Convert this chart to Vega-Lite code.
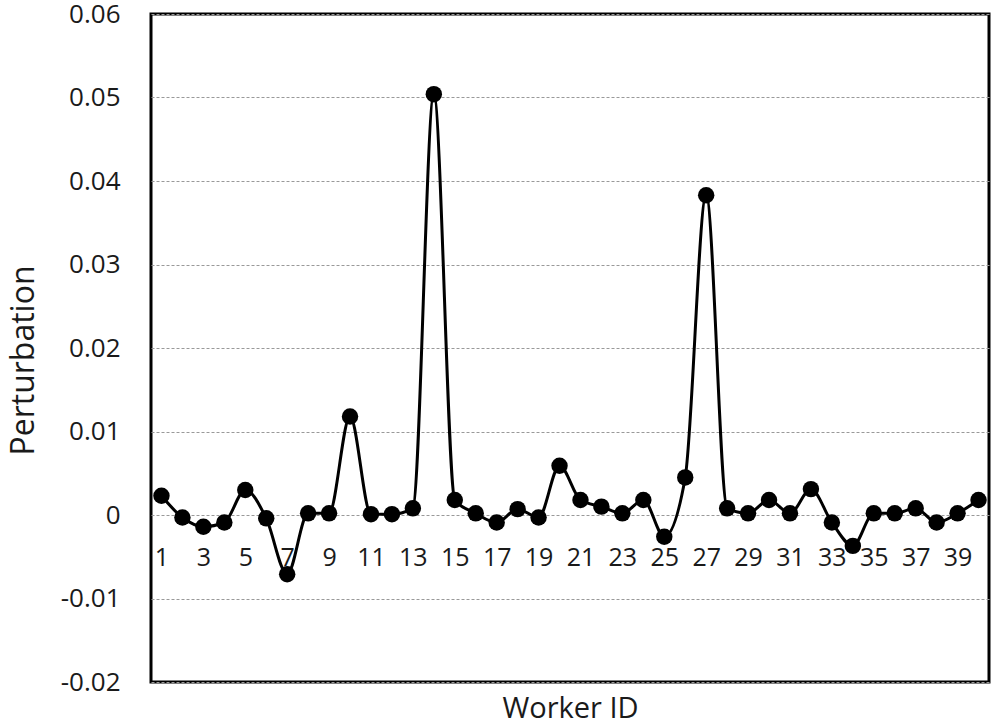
{
  "$schema": "https://vega.github.io/schema/vega-lite/v6.json",
  "autosize": {"type": "none"},
  "width": 838,
  "height": 668,
  "padding": {"left": 151, "top": 14, "right": 7, "bottom": 44},
  "background": "white",
  "config": {
    "view": {"stroke": "black", "strokeWidth": 3},
    "font": "Open Sans"
  },
  "data": {
    "values": [
      {"worker": 1, "perturbation": 0.0023},
      {"worker": 2, "perturbation": -0.0003},
      {"worker": 3, "perturbation": -0.0014},
      {"worker": 4, "perturbation": -0.0009},
      {"worker": 5, "perturbation": 0.0030},
      {"worker": 6, "perturbation": -0.0004},
      {"worker": 7, "perturbation": -0.0071},
      {"worker": 8, "perturbation": 0.0002},
      {"worker": 9, "perturbation": 0.0002},
      {"worker": 10, "perturbation": 0.0118},
      {"worker": 11, "perturbation": 0.0001},
      {"worker": 12, "perturbation": 0.0001},
      {"worker": 13, "perturbation": 0.0008},
      {"worker": 14, "perturbation": 0.0504},
      {"worker": 15, "perturbation": 0.0018},
      {"worker": 16, "perturbation": 0.0002},
      {"worker": 17, "perturbation": -0.0009},
      {"worker": 18, "perturbation": 0.0007},
      {"worker": 19, "perturbation": -0.0003},
      {"worker": 20, "perturbation": 0.0059},
      {"worker": 21, "perturbation": 0.0018},
      {"worker": 22, "perturbation": 0.0010},
      {"worker": 23, "perturbation": 0.0002},
      {"worker": 24, "perturbation": 0.0018},
      {"worker": 25, "perturbation": -0.0026},
      {"worker": 26, "perturbation": 0.0045},
      {"worker": 27, "perturbation": 0.0383},
      {"worker": 28, "perturbation": 0.0008},
      {"worker": 29, "perturbation": 0.0002},
      {"worker": 30, "perturbation": 0.0018},
      {"worker": 31, "perturbation": 0.0002},
      {"worker": 32, "perturbation": 0.0031},
      {"worker": 33, "perturbation": -0.0009},
      {"worker": 34, "perturbation": -0.0037},
      {"worker": 35, "perturbation": 0.0002},
      {"worker": 36, "perturbation": 0.0002},
      {"worker": 37, "perturbation": 0.0008},
      {"worker": 38, "perturbation": -0.0009},
      {"worker": 39, "perturbation": 0.0002},
      {"worker": 40, "perturbation": 0.0018}
    ]
  },
  "encoding": {
    "x": {
      "field": "worker",
      "type": "quantitative",
      "scale": {"domain": [0.5, 40.5], "nice": false, "zero": false},
      "axis": {
        "title": "Worker ID",
        "values": [1,3,5,7,9,11,13,15,17,19,21,23,25,27,29,31,33,35,37,39],
        "offset": -168,
        "domain": false,
        "ticks": false,
        "grid": false,
        "labelFont": "Open Sans",
        "labelFontSize": 25,
        "labelColor": "#1a1a1a",
        "labelPadding": 31,
        "labelFlush": false,
        "labelOverlap": false,
        "titleFont": "Open Sans",
        "titleFontSize": 29,
        "titleFontWeight": "normal",
        "titleColor": "#1a1a1a",
        "titleBaseline": "alphabetic",
        "titleY": 203
      }
    },
    "y": {
      "field": "perturbation",
      "type": "quantitative",
      "scale": {"domain": [-0.02, 0.06], "nice": false, "zero": false},
      "axis": {
        "title": "Perturbation",
        "values": [-0.02, -0.01, 0, 0.01, 0.02, 0.03, 0.04, 0.05, 0.06],
        "labelExpr": "toString(round(datum.value * 100) / 100)",
        "domain": false,
        "ticks": false,
        "grid": true,
        "gridColor": "#999999",
        "gridDash": [3, 2],
        "gridWidth": 1,
        "labelFont": "Open Sans",
        "labelFontSize": 26,
        "labelColor": "#1a1a1a",
        "labelPadding": 31,
        "labelFlush": false,
        "titleFont": "Open Sans",
        "titleFontSize": 32,
        "titleFontWeight": "normal",
        "titleColor": "#1a1a1a",
        "titleX": -128,
        "titleY": 346,
        "titleAngle": -90,
        "titleAlign": "center",
        "titleBaseline": "middle"
      }
    }
  },
  "layer": [
    {
      "mark": {"type": "line", "color": "black", "strokeWidth": 3, "interpolate": "monotone"}
    },
    {
      "mark": {"type": "point", "filled": true, "color": "black", "opacity": 1, "size": 270}
    }
  ]
}
